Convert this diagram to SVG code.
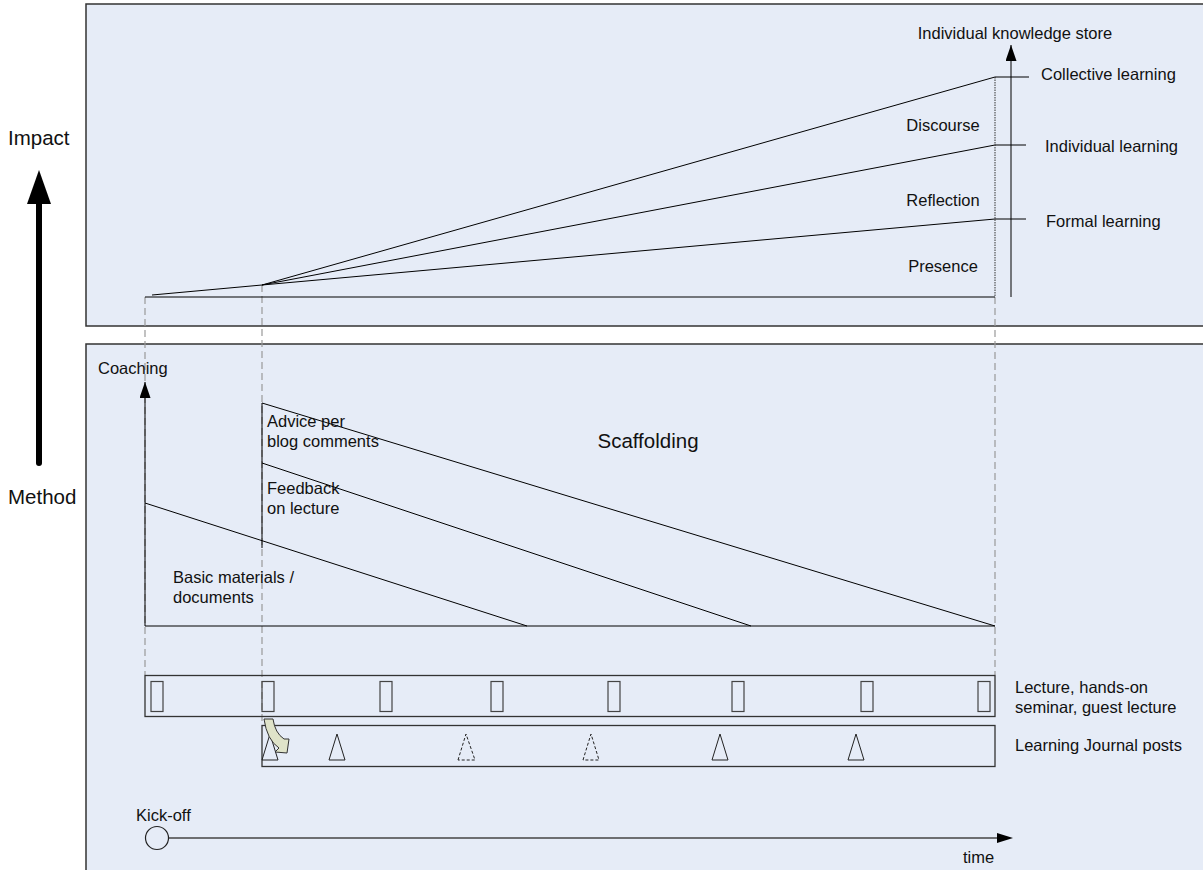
<svg xmlns="http://www.w3.org/2000/svg" width="1203" height="870" viewBox="0 0 1203 870">
<defs>
<style>
.panel{fill:#e6ecf7;stroke:#333;stroke-width:1.5}
.ln{stroke:#000;stroke-width:1;fill:none}
.dash{stroke:#999;stroke-width:1.2;stroke-dasharray:7,4;fill:none}
.t{font-family:"Liberation Sans",Arial,sans-serif;font-size:16.5px;fill:#111}
.big{font-size:20.5px}
.bar{fill:none;stroke:#333;stroke-width:1.3}
.slot{fill:none;stroke:#444;stroke-width:1.2}
.tri{fill:none;stroke:#222;stroke-width:1}
.trid{fill:none;stroke:#222;stroke-width:1;stroke-dasharray:3,2}
</style>
<marker id="ahl" viewBox="0 0 10 10" refX="10" refY="5" markerWidth="16" markerHeight="11" markerUnits="userSpaceOnUse" orient="auto" preserveAspectRatio="none"><path d="M0,0 L10,5 L0,10 Z" fill="#000"/></marker>
</defs>
<rect width="1203" height="870" fill="#fff"/>
<g id="panel-impact"><rect class="panel" x="86" y="4" width="1130" height="322"/></g>
<g id="panel-method"><rect class="panel" x="86" y="344" width="1130" height="540"/></g>

<g id="axis-main">
<text class="t big" x="8" y="145">Impact</text>
<line x1="39" y1="463" x2="39" y2="200" stroke="#000" stroke-width="6" stroke-linecap="round"/>
<path d="M27,204 L39,170 L51,204 Z" fill="#000"/>
<text class="t big" x="8" y="504">Method</text>
</g>

<g id="connectors">
<line class="dash" x1="145" y1="297" x2="145" y2="675"/>
<line class="dash" x1="262" y1="285" x2="262" y2="725"/>
<line class="dash" x1="995" y1="297" x2="995" y2="675"/>
<line class="ln" x1="145" y1="297" x2="995" y2="297"/>
<line class="ln" x1="152" y1="295" x2="262" y2="285"/>
<line class="ln" x1="262" y1="285" x2="995" y2="77"/>
<line class="ln" x1="262" y1="285" x2="995" y2="145"/>
<line class="ln" x1="262" y1="285" x2="995" y2="219"/>
<line x1="995" y1="77" x2="995" y2="297" stroke="#333" stroke-width="1" stroke-dasharray="1.5,1"/>
<line class="ln" x1="995" y1="77" x2="1029" y2="77"/>
<line class="ln" x1="995" y1="145" x2="1026" y2="145"/>
<line class="ln" x1="995" y1="219" x2="1026" y2="219"/>
<line class="ln" x1="1011" y1="297" x2="1011" y2="45" marker-end="url(#ahl)"/>
<line class="ln" x1="145" y1="626" x2="145" y2="382" marker-end="url(#ahl)"/>
<line class="ln" x1="145" y1="626" x2="995" y2="626"/>
<line class="ln" x1="262" y1="403" x2="262" y2="548"/>
<line class="ln" x1="262" y1="403" x2="995" y2="626"/>
<line class="ln" x1="262" y1="463" x2="751" y2="626"/>
<line class="ln" x1="145" y1="503" x2="527" y2="626"/>
<line x1="168" y1="838" x2="1000" y2="838" stroke="#444" stroke-width="1.3"/>
<path d="M997,833 L1013,838 L997,843 Z" fill="#000"/>
</g>

<g id="impact-labels">
<text class="t" x="1015" y="39" text-anchor="middle">Individual knowledge store</text>
<text class="t" x="1041" y="80">Collective learning</text>
<text class="t" x="1045" y="152">Individual learning</text>
<text class="t" x="1046" y="227">Formal learning</text>
<text class="t" x="943" y="131" text-anchor="middle">Discourse</text>
<text class="t" x="943" y="206" text-anchor="middle">Reflection</text>
<text class="t" x="943" y="272" text-anchor="middle">Presence</text>
</g>

<g id="method-labels">
<text class="t" x="98" y="374">Coaching</text>
<text class="t big" x="648" y="448" text-anchor="middle">Scaffolding</text>
<text class="t" x="267" y="427">Advice per</text>
<text class="t" x="267" y="447">blog comments</text>
<text class="t" x="267" y="494">Feedback</text>
<text class="t" x="267" y="514">on lecture</text>
<text class="t" x="173" y="583">Basic materials /</text>
<text class="t" x="173" y="603">documents</text>
</g>

<g id="lecture-bar">
<rect class="bar" x="145" y="675.5" width="850" height="41"/>
<rect class="slot" x="151" y="681.5" width="12" height="30"/>
<rect class="slot" x="262" y="681.5" width="12" height="30"/>
<rect class="slot" x="380" y="681.5" width="12" height="30"/>
<rect class="slot" x="491" y="681.5" width="12" height="30"/>
<rect class="slot" x="608" y="681.5" width="12" height="30"/>
<rect class="slot" x="732" y="681.5" width="12" height="30"/>
<rect class="slot" x="861" y="681.5" width="12" height="30"/>
<rect class="slot" x="978" y="681.5" width="12" height="30"/>
<text class="t" x="1015" y="693">Lecture, hands-on</text>
<text class="t" x="1015" y="713">seminar, guest lecture</text>
</g>

<g id="journal-bar">
<rect class="bar" x="262" y="725.5" width="733" height="41"/>
<path class="tri" d="M262,760 L270,734 L278,760 Z"/>
<path class="tri" d="M329,760 L337,734 L345,760 Z"/>
<path class="trid" d="M458,760 L466,734 L475,760 Z"/>
<path class="trid" d="M583,760 L591,734 L599,760 Z"/>
<path class="tri" d="M712,760 L720,734 L728,760 Z"/>
<path class="tri" d="M848,760 L856,734 L864,760 Z"/>
<text class="t" x="1015" y="751">Learning Journal posts</text>
</g>

<g id="curved-arrow">
<path d="M264,719 L273,719 Q275,733 284,739 L289,739 L287,753 L275,752 L279,748 Q267,740 264,719 Z" fill="#dfe3c9" stroke="#333" stroke-width="1"/>
</g>

<g id="kickoff">
<circle cx="157" cy="838" r="11.5" fill="none" stroke="#222" stroke-width="1.2"/>
<text class="t" x="136" y="821">Kick-off</text>
<text class="t" x="963" y="863">time</text>
</g>
</svg>
